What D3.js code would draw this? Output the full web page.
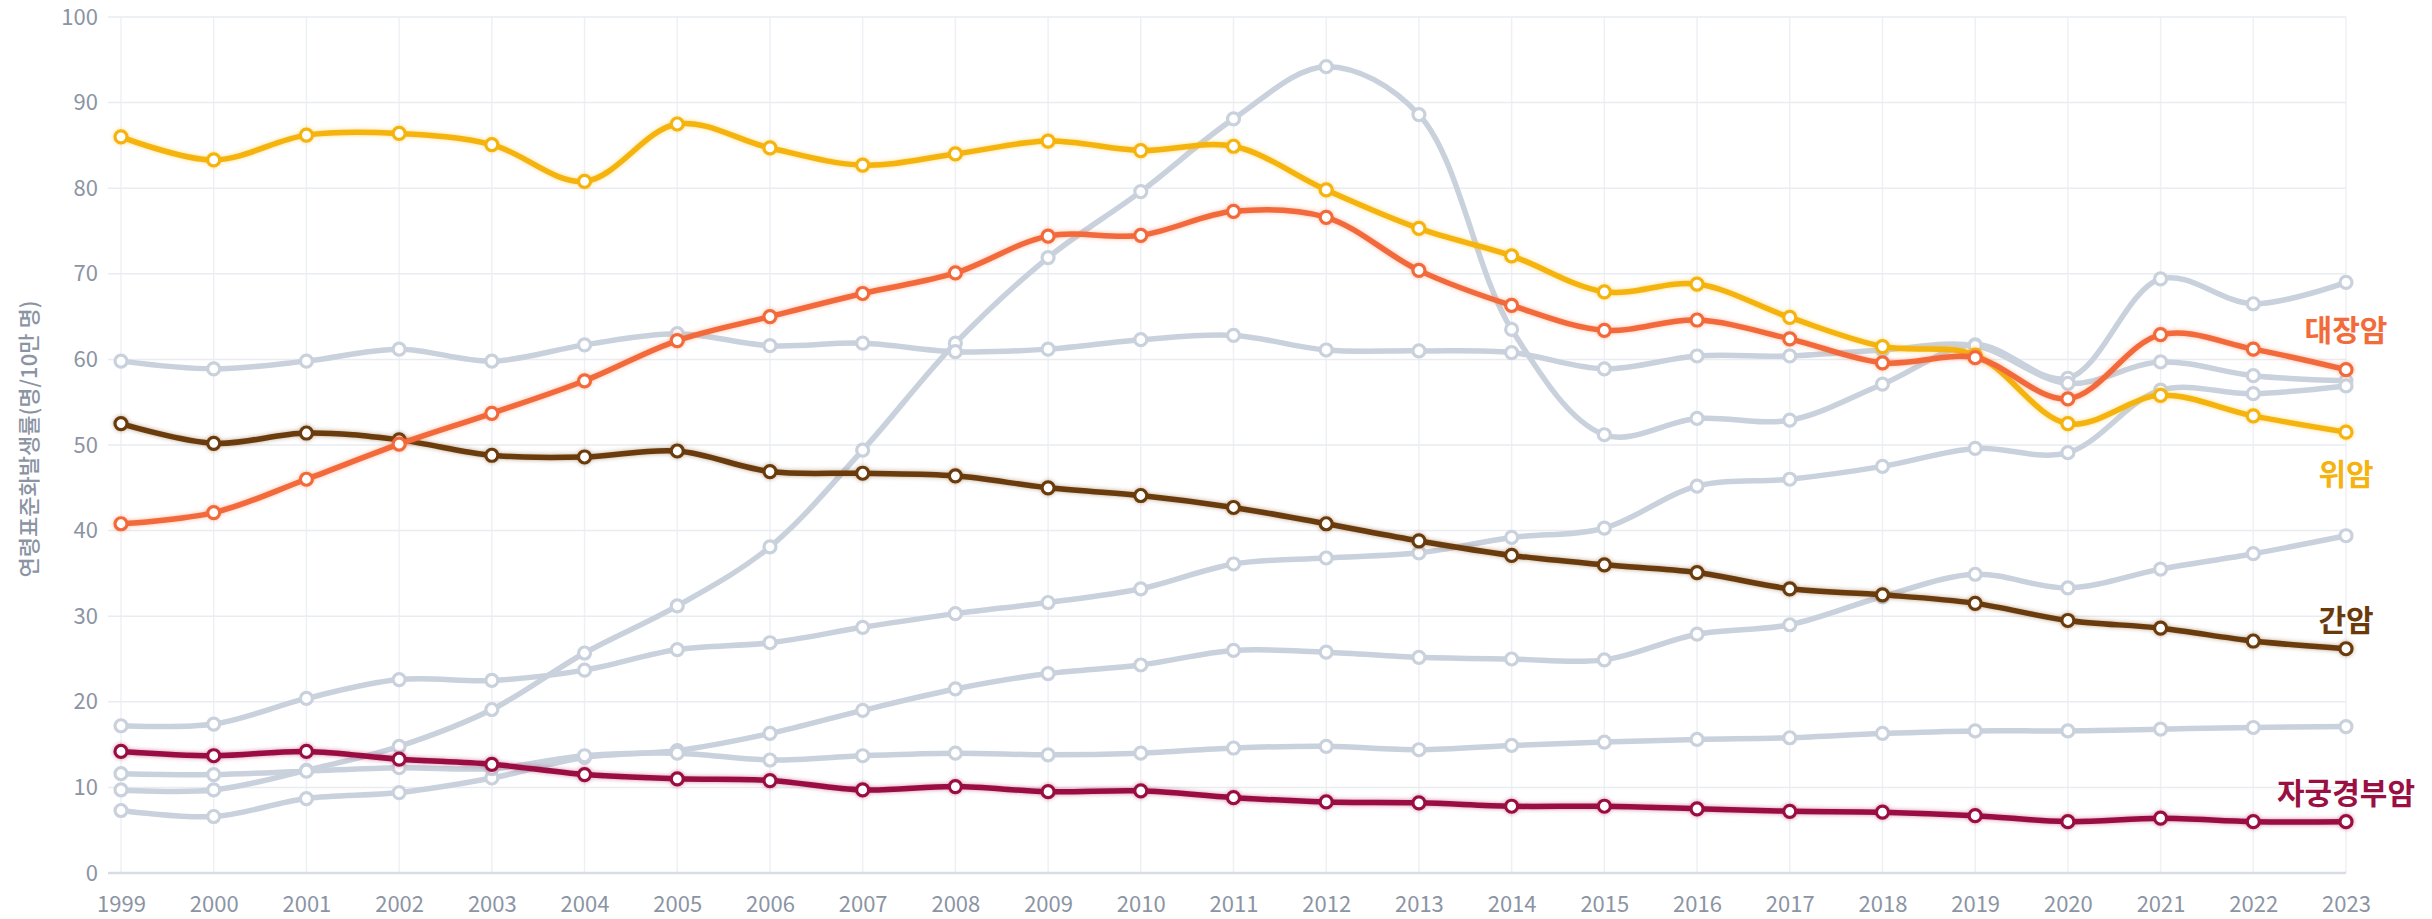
<!DOCTYPE html>
<html>
<head>
<meta charset="utf-8">
<script src="https://cdn.jsdelivr.net/npm/d3@7"></script>
<style>
  body { margin: 0; background: #fff; }
  svg { display: block; }
</style>
</head>
<body>
<script>
// Years on the x axis
const years = [1999, 2000, 2001, 2002, 2003, 2004, 2005, 2006, 2007, 2008, 2009, 2010, 2011,
  2012, 2013, 2014, 2015, 2016, 2017, 2018, 2019, 2020, 2021, 2022, 2023];

// y ticks
const yTicks = [0, 10, 20, 30, 40, 50, 60, 70, 80, 90, 100];

// highlighted series
const stomach = [86.0, 83.3, 86.2, 86.4, 85.1, 80.8, 87.5, 84.7, 82.7, 84.0, 85.5, 84.4, 84.9,
  79.8, 75.3, 72.1, 67.9, 68.8, 64.9, 61.5, 60.5, 52.5, 55.8, 53.4, 51.5];
const colorectal = [40.8, 42.1, 46.0, 50.1, 53.7, 57.5, 62.2, 65.0, 67.7, 70.1, 74.4, 74.5, 77.3,
  76.6, 70.4, 66.3, 63.4, 64.6, 62.4, 59.6, 60.2, 55.4, 62.9, 61.2, 58.8];
const liver = [52.5, 50.2, 51.4, 50.6, 48.8, 48.6, 49.3, 46.9, 46.7, 46.4, 45.0, 44.1, 42.7,
  40.8, 38.8, 37.1, 36.0, 35.1, 33.2, 32.5, 31.5, 29.5, 28.6, 27.1, 26.2];
const cervix = [14.2, 13.7, 14.2, 13.3, 12.7, 11.5, 11.0, 10.8, 9.7, 10.1, 9.5, 9.6, 8.8,
  8.3, 8.2, 7.8, 7.8, 7.5, 7.2, 7.1, 6.7, 6.0, 6.4, 6.0, 6.0];

// background (grey) series
const thyroid = [9.7, 9.7, 12.0, 14.8, 19.1, 25.7, 31.2, 38.1, 49.4, 61.9, 71.9, 79.6, 88.1,
  94.2, 88.6, 63.5, 51.2, 53.1, 52.9, 57.1, 61.7, 57.8, 69.4, 66.5, 69.0];
const lung = [59.8, 58.9, 59.8, 61.2, 59.8, 61.7, 63.0, 61.6, 61.9, 60.9, 61.2, 62.3, 62.8,
  61.1, 61.0, 60.8, 58.9, 60.4, 60.4, 61.1, 61.6, 57.2, 59.7, 58.1, 57.5];
const greyA = [17.2, 17.4, 20.4, 22.6, 22.5, 23.7, 26.1, 26.9, 28.7, 30.3, 31.6, 33.2, 36.1,
  36.8, 37.4, 39.2, 40.3, 45.2, 46.0, 47.5, 49.6, 49.1, 56.4, 56.0, 56.9];
const greyB = [7.3, 6.6, 8.7, 9.4, 11.1, 13.5, 14.3, 16.3, 19.0, 21.5, 23.3, 24.3, 26.0,
  25.8, 25.2, 25.0, 24.9, 27.9, 29.0, 32.3, 34.9, 33.3, 35.5, 37.3, 39.4];
const greyC = [11.6, 11.5, 11.9, 12.3, 12.2, 13.7, 14.0, 13.2, 13.7, 14.0, 13.8, 14.0, 14.6,
  14.8, 14.4, 14.9, 15.3, 15.6, 15.8, 16.3, 16.6, 16.6, 16.8, 17.0, 17.1];

const W = 2432, H = 919;
const font = "'Noto Sans CJK KR', 'Noto Sans', sans-serif";

const svg = d3.select('body').append('svg')
  .attr('width', W)
  .attr('height', H);

const x = d3.scalePoint().domain(years).range([121, 2346]);
const y = d3.scaleLinear().domain([0, 100]).range([873, 17]);

// grid
svg.append('g').selectAll('line')
  .data(years)
  .join('line')
  .attr('x1', d => x(d)).attr('x2', d => x(d))
  .attr('y1', y(100)).attr('y2', y(0))
  .attr('stroke', '#eef0f4')
  .attr('stroke-width', 1.5);

svg.append('g').selectAll('line')
  .data(yTicks)
  .join('line')
  .attr('x1', 108).attr('x2', x(2023))
  .attr('y1', d => y(d)).attr('y2', d => y(d))
  .attr('stroke', d => d === 0 ? '#d9dde3' : '#e9ecf0')
  .attr('stroke-width', d => d === 0 ? 2.5 : 1.5);

// axes (labels only)
const yAxis = svg.append('g')
  .attr('transform', 'translate(98,0)')
  .call(d3.axisLeft(y).tickValues(yTicks).tickSize(0).tickPadding(0));
yAxis.select('.domain').remove();
yAxis.selectAll('text')
  .attr('fill', '#8b94a3')
  .style('font-family', font)
  .style('font-size', '22px');

const xAxis = svg.append('g')
  .attr('transform', `translate(0,${y(0)})`)
  .call(d3.axisBottom(x).tickSize(0).tickPadding(23));
xAxis.select('.domain').remove();
xAxis.selectAll('text')
  .attr('fill', '#8b94a3')
  .style('font-family', font)
  .style('font-size', '22px');

// y axis title
svg.append('text')
  .attr('transform', 'translate(27,439) rotate(-90)')
  .attr('text-anchor', 'middle')
  .attr('dominant-baseline', 'central')
  .attr('fill', '#8b94a3')
  .style('font-family', font)
  .style('font-weight', 500)
  .style('font-size', '22px')
  .text('연령표준화발생률(명/10만 명)');

const greySeries = [thyroid, lung, greyA, greyB, greyC];
const mainSeries = [
  { name: '대장암', values: colorectal, color: '#f26b3a', dy: -42 },
  { name: '위암', values: stomach, color: '#f5b30f', dy: 40 },
  { name: '간암', values: liver, color: '#6a3a0b', dy: -31 },
  { name: '자궁경부암', values: cervix, color: '#9a1042', dy: -31 }
];

const line = d3.line()
  .x((d, i) => x(years[i]))
  .y(d => y(d))
  .curve(d3.curveCatmullRom.alpha(0.5));

// soft glow under coloured lines
const defs = svg.append('defs');
mainSeries.forEach((s, k) => {
  defs.append('filter')
    .attr('id', 'glow' + k)
    .attr('x', '-5%').attr('y', '-20%').attr('width', '110%').attr('height', '140%')
    .append('feDropShadow')
    .attr('dx', 0).attr('dy', 0)
    .attr('stdDeviation', 2)
    .attr('flood-color', s.color)
    .attr('flood-opacity', 0.45);
});

function drawSeries(values, color, filter) {
  const g = svg.append('g');
  if (filter) g.attr('filter', filter);
  g.append('path')
    .datum(values)
    .attr('d', line)
    .attr('fill', 'none')
    .attr('stroke', color)
    .attr('stroke-width', 5.5)
    .attr('stroke-linejoin', 'round');
  g.selectAll('circle')
    .data(values)
    .join('circle')
    .attr('cx', (d, i) => x(years[i]))
    .attr('cy', d => y(d))
    .attr('r', 6)
    .attr('fill', '#fff')
    .attr('stroke', color)
    .attr('stroke-width', 3.2);
}

greySeries.forEach(v => drawSeries(v, '#c9d1dd', null));
mainSeries.slice().reverse().forEach(s => drawSeries(s.values, s.color, `url(#glow${mainSeries.indexOf(s)})`));

// series labels at the right end
svg.append('g').selectAll('text')
  .data(mainSeries)
  .join('text')
  .attr('x', x(2023))
  .attr('y', d => y(d.values[d.values.length - 1]) + d.dy)
  .attr('text-anchor', 'middle')
  .attr('dominant-baseline', 'central')
  .attr('fill', d => d.color)
  .style('font-family', font)
  .style('font-weight', 700)
  .style('font-size', '30px')
  .text(d => d.name);
</script>
</body>
</html>
